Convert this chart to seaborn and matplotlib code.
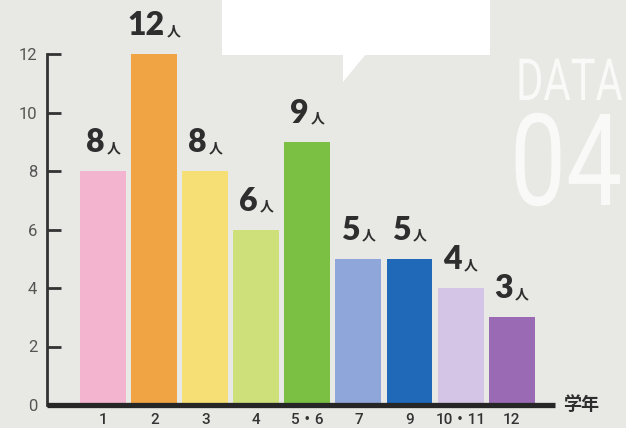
import matplotlib
matplotlib.use("Agg")
import matplotlib.pyplot as plt
import seaborn as sns
import pandas as pd
from matplotlib.patches import Rectangle, Polygon, PathPatch
from matplotlib.offsetbox import TextArea, HPacker, AnnotationBbox
from matplotlib.textpath import TextPath
from matplotlib.font_manager import FontProperties
from matplotlib import transforms

# ---- data ----
grades = ["1", "2", "3", "4", "5・6", "7", "9", "10・11", "12"]
counts = [8, 12, 8, 6, 9, 5, 5, 4, 3]
colors = ["#f2b4cf", "#f0a443", "#f6df74", "#cde07a", "#7cc043",
          "#8ea6d9", "#2068b8", "#d4c4e6", "#9a6bb4"]
unit = "人"
xlabel = "学年"
yticks = [0, 2, 4, 6, 8, 10, 12]

sns.set_theme(style="white")
plt.rcParams['font.family'] = ['Roboto', 'Noto Sans CJK JP', 'DejaVu Sans']

W, H = 626, 428
bg = "#e8e8e4"
fig = plt.figure(figsize=(W / 100, H / 100), dpi=100, facecolor=bg)
ax = fig.add_axes([47 / W, 23 / H, (555 - 47) / W, (405 - 54) / H])
ax.set_facecolor("none")

df = pd.DataFrame({"grade": grades, "count": counts})
sns.barplot(data=df, x="grade", y="count", hue="grade", palette=colors,
            order=grades, hue_order=grades, legend=False, width=0.9,
            saturation=1, ax=ax, edgecolor="none", linewidth=0)

ax.set_xlim(-1.1, 8.85)
ax.set_ylim(0, 12)
ax.set_yticks(yticks)
ax.set_xlabel("")
ax.set_ylabel("")
for s in ["top", "right"]:
    ax.spines[s].set_visible(False)
ax.spines["left"].set_color("#333333")
ax.spines["left"].set_linewidth(2.0)
ax.spines["bottom"].set_color("#262626")
ax.spines["bottom"].set_linewidth(3.8)
ax.spines["bottom"].set_capstyle("butt")
ax.tick_params(axis="y", left=True, direction="in", length=10, width=2.0,
               color="#333333", pad=7, labelsize=12, labelcolor="#555555")
ax.tick_params(axis="x", bottom=False, length=0, pad=6, labelsize=11,
               labelcolor="#333333")
for lab in ax.get_xticklabels():
    lab.set_fontweight("medium")

# value labels: big number + small 人
for i, v in enumerate(counts):
    num = TextArea(str(v), textprops=dict(fontsize=23, fontweight="heavy",
                                          color="#2e2e2e", family=["Lato", "DejaVu Sans"]))
    jin = TextArea(unit, textprops=dict(fontsize=10, fontweight="bold",
                                        color="#2e2e2e", family=["Noto Sans CJK JP"]))
    box = HPacker(children=[num, jin], align="baseline", pad=0, sep=1.5)
    ab = AnnotationBbox(box, (i, v), xybox=(0, 10), xycoords="data",
                        boxcoords="offset points", box_alignment=(0.5, 0),
                        frameon=False, annotation_clip=False, pad=0)
    ax.add_artist(ab)

fig.text(563 / W, 1 - 404 / H, xlabel, fontsize=13, fontweight="bold",
         color="#2e2e2e", va="center", ha="left", family=["Noto Sans CJK JP"])

# speech bubble (white)
px = transforms.IdentityTransform()
fig.patches.append(Rectangle((222, H - 55), 268, 60, transform=px,
                             facecolor="white", edgecolor="none", zorder=5))
fig.patches.append(Polygon([(343, H - 54), (343, H - 82), (366, H - 54)],
                           closed=True, transform=px, facecolor="white",
                           edgecolor="none", zorder=5))

# DATA 04 decoration
fp = FontProperties(family="Roboto", weight="normal")
tp1 = TextPath((0, 0), "DATA", size=58, prop=fp)
t1 = transforms.Affine2D().scale(0.72, 1.0).translate(516, H - 100) + px
fig.patches.append(PathPatch(tp1, transform=t1, facecolor="white",
                             edgecolor="none", alpha=0.75))
tp2 = TextPath((0, 0), "04", size=128, prop=fp)
t2 = transforms.Affine2D().scale(0.78, 1.0).translate(510, H - 205) + px
fig.patches.append(PathPatch(tp2, transform=t2, facecolor="white",
                             edgecolor="none", alpha=0.75))

fig.savefig("out.png", dpi=100, facecolor=bg)
